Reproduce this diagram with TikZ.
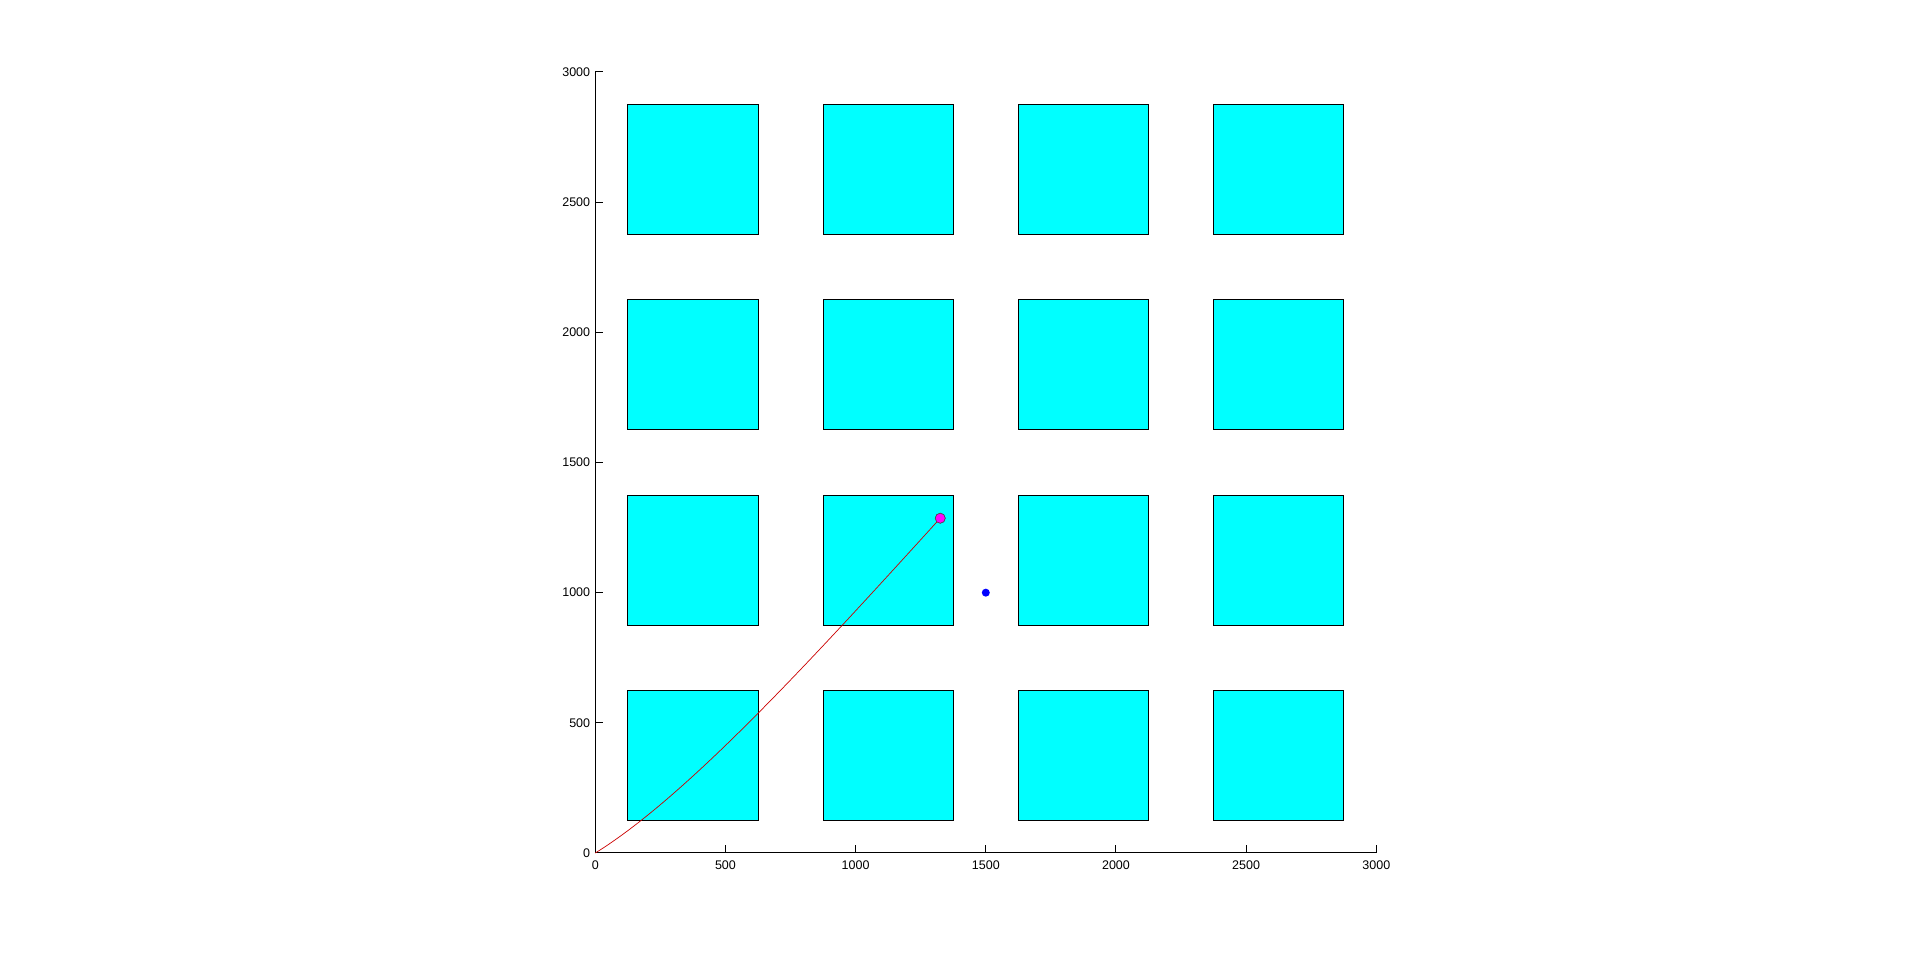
\documentclass[tikz,border=0pt]{standalone}
\usepackage{fontspec}
\setmainfont{Liberation Sans}
\definecolor{sqcyan}{HTML}{00FFFF}
\definecolor{pathred}{HTML}{CC0000}
\definecolor{markmag}{HTML}{FF00FF}
\definecolor{markblue}{HTML}{0000FF}
\tikzset{
  obstacle/.style={draw=black, line width=1pt, fill=sqcyan},
  axisline/.style={draw=black, line width=1pt},
  ticklbl/.style={font=\fontsize{12.5}{14}\selectfont, inner sep=0pt},
  trajectory/.style={draw=pathred, line width=0.7pt},
  goalmark/.style={circle, draw=black!70, line width=0.6pt, fill=markmag, minimum size=10pt, inner sep=0pt},
  startmark/.style={circle, fill=markblue, minimum size=8pt, inner sep=0pt},
}
\begin{document}
\begin{tikzpicture}[x=1pt,y=1pt]
\useasboundingbox (0,0) rectangle (1905,958);
\fill[white] (0,0) rectangle (1905,958);
\begin{scope}[shift={(595.3pt,105pt)}, x=0.26033pt, y=0.26033pt]
  % obstacles
  \foreach \i in {0,1,2,3}{
    \foreach \j in {0,1,2,3}{
      \path[obstacle] ({125+750*\i},{125+750*\j}) rectangle ({625+750*\i},{625+750*\j});
    }
  }
  % axes
  \coordinate (O) at (0,0);
  \coordinate (XE) at (3000,0);
  \coordinate (YE) at (0,3000);
  \draw[axisline] (YE) -- (O) -- (XE);
  \foreach \v in {0,500,1000,1500,2000,2500,3000}{
    \draw[axisline] (\v,0) -- (\v,29);
    \draw[axisline] (0,\v) -- (29,\v);
    \node[ticklbl, anchor=north] at ([yshift=-7.5pt]\v,0) {\v};
    \node[ticklbl, anchor=east] at ([xshift=-5pt]0,\v) {\v};
  }
  % markers
  \node[startmark] (start) at (1500,1000) {};
  \node[goalmark] (goal) at (1325,1286) {};
  % trajectory
  \draw[trajectory] (O) .. controls (350,217) and (822,732) .. (goal.center);
  \node[goalmark] at (goal) {};
\end{scope}
\end{tikzpicture}
\end{document}
